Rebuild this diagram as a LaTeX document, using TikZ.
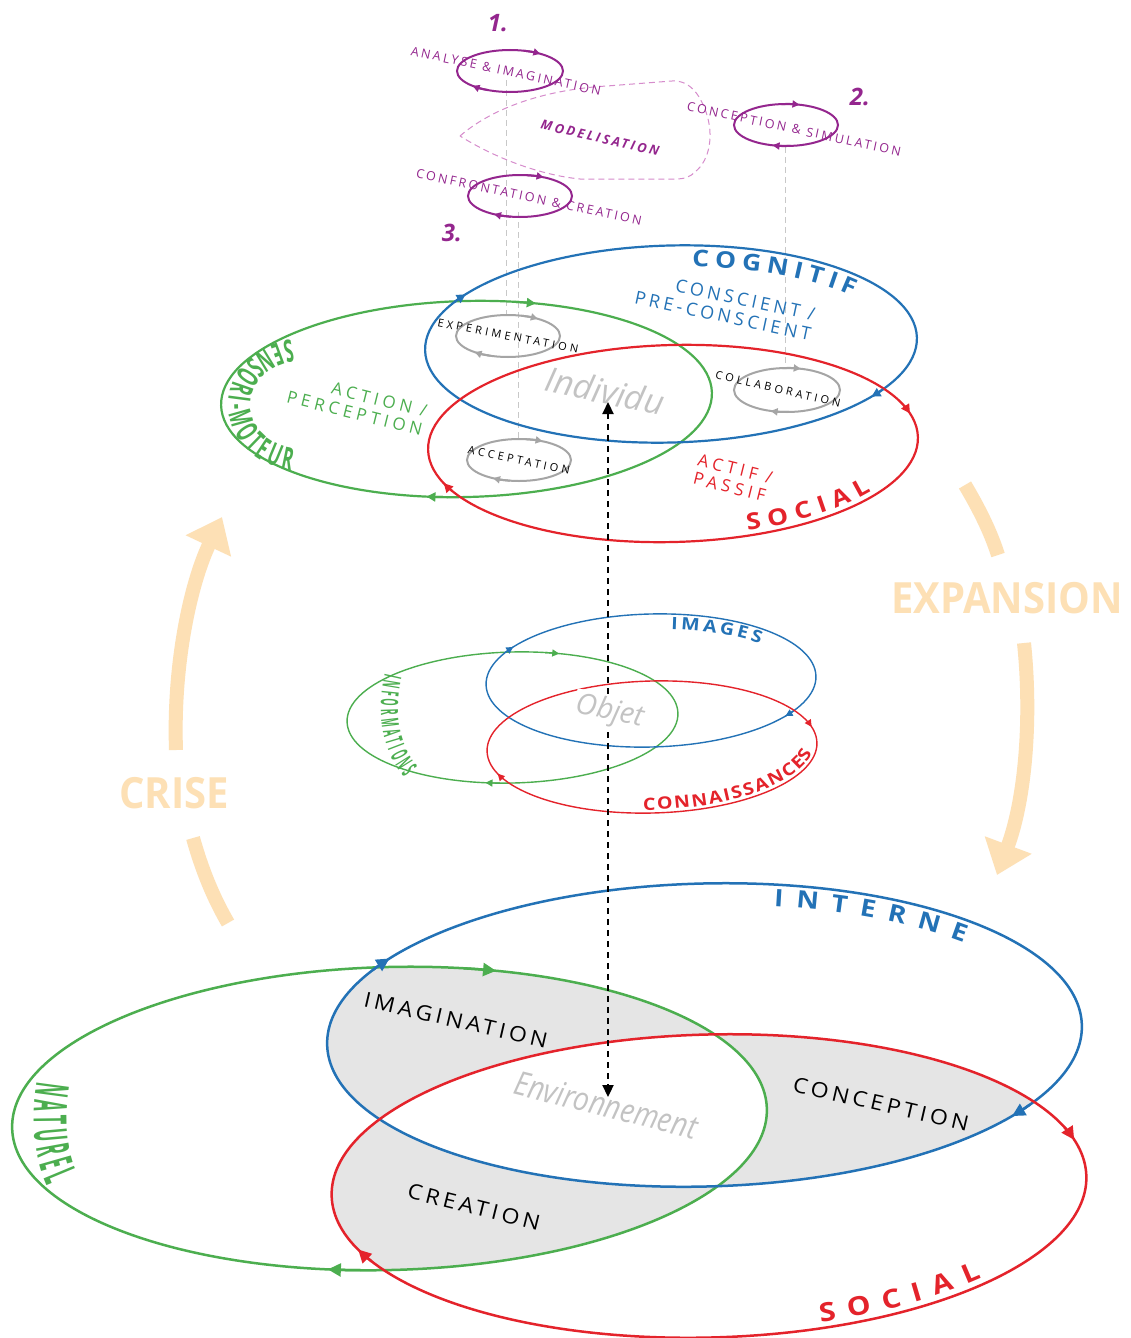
\documentclass[tikz,border=0pt]{standalone}
\usepackage{fontspec}
\setmainfont{Open Sans}
\newfontfamily\fLb[LetterSpace=25]{Open Sans}
\newfontfamily\fLc[LetterSpace=30]{Open Sans}
\newfontfamily\fLd[LetterSpace=20]{Open Sans}
\newfontfamily\fWl[FakeStretch=1.1,LetterSpace=18]{Open Sans}
\newfontfamily\fW[FakeStretch=1.15]{Open Sans}
\newfontfamily\fNa[FakeStretch=0.36]{Open Sans}
\newfontfamily\fNb[FakeStretch=0.53]{Open Sans}
\newfontfamily\fNc[FakeStretch=0.38]{Open Sans}
\newfontfamily\fCo[FakeStretch=0.93]{Open Sans}
\newfontfamily\fEn[FakeStretch=0.85]{Open Sans}
\usetikzlibrary{arrows.meta,decorations.text}
\definecolor{cBlue}{RGB}{35,114,182}
\definecolor{cGreen}{RGB}{76,174,79}
\definecolor{cRed}{RGB}{228,35,43}
\definecolor{cPurple}{RGB}{148,38,142}
\definecolor{cPink}{RGB}{214,140,204}
\definecolor{cOrange}{RGB}{253,224,181}
\definecolor{cLoop}{RGB}{165,165,165}
\definecolor{cGhost}{RGB}{195,195,195}
\definecolor{cFill}{RGB}{229,229,229}
\definecolor{cGuide}{RGB}{200,200,200}

\newcommand\ellarr[8]{%
 \draw[shift={(#1,#2)},rotate=1.5,#6,line width=#7,-{Triangle[length=#8,width=#8]}]
  ({#5-5}:#3 and #4) arc[start angle={#5-5},end angle=#5,x radius=#3,y radius=#4];}
\newcommand\myloop[7]{%
 \draw[#7,line width=2pt] (#1,#2) ellipse[x radius=#3,y radius=#4];
 \draw[shift={(#1,#2)},#7,line width=2pt,-{Triangle[length=7pt,width=7pt]}]
  ({#5-20}:#3 and #4) arc[start angle={#5-20},end angle=#5,x radius=#3,y radius=#4];
 \draw[shift={(#1,#2)},#7,line width=2pt,-{Triangle[length=7pt,width=7pt]}]
  ({#6-20}:#3 and #4) arc[start angle={#6-20},end angle=#6,x radius=#3,y radius=#4];}

\tikzset{
 x=1pt,y=-1pt,
 lbl/.style={inner sep=0pt,align=center},
 BB/.style={shift={(704.5,1035)},rotate=1.5},
 BG/.style={shift={(389.5,1118.5)},rotate=1.5},
 BR/.style={shift={(709,1186)},rotate=1.5},
 TB/.style={shift={(671,344)},rotate=1.5},
 TG/.style={shift={(466.5,399)},rotate=1.5},
 TR/.style={shift={(673,443.5)},rotate=1.5},
 MB/.style={shift={(651,680.5)},rotate=1.5},
 MG/.style={shift={(512.5,717.5)},rotate=1.5},
 MR/.style={shift={(652,747)},rotate=1.5},
 orangearc/.style={cOrange,line width=14pt},
 guide/.style={cGuide,line width=1pt,dash pattern=on 6pt off 4pt},
}

\begin{document}
\begin{tikzpicture}
\useasboundingbox (0,0) rectangle (1131,1338);
\fill[white] (0,0) rectangle (1131,1338);

% ---------- orange cycle arrows ----------
\draw[orangearc,-{Triangle[length=32pt,width=48pt]}] (176,750) .. controls (173,665) and (190,585) .. (222,517);
\draw[orangearc] (193,838) .. controls (202,870) and (213,897) .. (228,923);
\draw[orangearc] (965,485) .. controls (978,507) and (990,530) .. (998,555);
\draw[orangearc,-{Triangle[length=32pt,width=48pt]}] (1024,643) .. controls (1032,720) and (1025,800) .. (997,875);
\node[lbl,text=cOrange,font=\fCo\bfseries\fontsize{43}{43}\selectfont] (crise) at (174,793) {CRISE};
\node[lbl,text=cOrange,font=\fCo\bfseries\fontsize{43}{43}\selectfont] (expansion) at (1007,598) {EXPANSION};

% ---------- guide lines ----------
\draw[guide] (506,80) -- (506,318);
\draw[guide] (518,212) -- (518,441);
\draw[guide] (785,147) -- (785,369);

% ---------- modelisation ----------
\draw[cPink,line width=1pt,dash pattern=on 6pt off 4pt]
 (460,136) .. controls (490,110) and (540,90) .. (607,86) -- (672,81)
 .. controls (690,80) and (700,95) .. (706,112)
 .. controls (714,135) and (710,160) .. (695,172)
 .. controls (690,177) and (685,179) .. (675,179) -- (580,179)
 .. controls (540,175) and (495,158) .. (460,136) -- cycle;
\node[lbl,rotate=-13,text=cPurple,font=\fLd\bfseries\itshape\fontsize{13}{13}\selectfont] (model) at (600,138) {MODELISATION};

\myloop{510}{71}{53}{21}{-55}{135}{cPurple}
\myloop{786}{125}{52}{21}{-75}{105}{cPurple}
\myloop{520}{196}{52}{21}{-63}{120}{cPurple}
\node[lbl,rotate=-12,text=cPurple,font=\fLd\fontsize{12.5}{12.5}\selectfont] (s1) at (506,71) {ANALYSE \& IMAGINATION};
\node[lbl,rotate=-12,text=cPurple,font=\fLd\fontsize{12.5}{12.5}\selectfont] (s2) at (794,129) {CONCEPTION \& SIMULATION};
\node[lbl,rotate=-12,text=cPurple,font=\fLd\fontsize{12.5}{12.5}\selectfont] (s3) at (529,197) {CONFRONTATION \& CREATION};
\node[lbl,text=cPurple,font=\bfseries\itshape\fontsize{24}{24}\selectfont] (n1) at (498,23) {1.};
\node[lbl,text=cPurple,font=\bfseries\itshape\fontsize{24}{24}\selectfont] (n2) at (860,97) {2.};
\node[lbl,text=cPurple,font=\bfseries\itshape\fontsize{24}{24}\selectfont] (n3) at (452,233) {3.};

% ---------- top ellipses ----------
\draw[TG,cGreen,line width=2.2pt] (0,0) ellipse[x radius=245.5,y radius=98];
\draw[TB,cBlue,line width=2.2pt] (0,0) ellipse[x radius=246,y radius=98.5];
\draw[TR,cRed,line width=2.2pt] (0,0) ellipse[x radius=245,y radius=98.5];
\ellarr{671}{344}{246}{98.5}{214}{cBlue}{2.2pt}{9pt}
\ellarr{671}{344}{246}{98.5}{36}{cBlue}{2.2pt}{9pt}
\ellarr{466.5}{399}{245.5}{98}{-73}{cGreen}{2.2pt}{9pt}
\ellarr{466.5}{399}{245.5}{98}{100}{cGreen}{2.2pt}{9pt}
\ellarr{673}{443.5}{245}{98.5}{160}{cRed}{2.2pt}{9pt}
\ellarr{673}{443.5}{245}{98.5}{-14}{cRed}{2.2pt}{9pt}

\path[TB,decorate,decoration={text along path,text align=center,raise=-21pt,
 text={|\fW\bfseries\fontsize{23}{23}\selectfont\spaceskip=6.7pt\color{cBlue}|C O G N I T I F}}]
 (-93:246 and 98.5) arc[start angle=-93,end angle=-25,x radius=246,y radius=98.5];
\path[TR,decorate,decoration={text along path,text align=center,raise=5pt,
 text={|\fW\bfseries\fontsize{23}{23}\selectfont\spaceskip=7.6pt\color{cRed}|S O C I A L}}]
 (82:245 and 98.5) arc[start angle=82,end angle=20,x radius=245,y radius=98.5];
\path[decorate,decoration={text along path,text align=center,
 text={|\fNb\bfseries\fontsize{31}{31}\selectfont\spaceskip=4pt\color{cGreen}|S E N S O R I - M O T E U R}}]
 (303,405) ++(278:75 and 66) arc[start angle=278,end angle=82,x radius=75,y radius=66];

\node[lbl,align=right,rotate=-12,text=cBlue,font=\fLd\fontsize{18}{20}\selectfont] (consc) at (725,306) {CONSCIENT /\\PRE-CONSCIENT};
\node[lbl,align=right,rotate=-14,text=cGreen,font=\fLb\fontsize{17}{19}\selectfont] (action) at (357,404) {ACTION /\\PERCEPTION};
\node[lbl,align=left,rotate=-14,text=cRed,font=\fLb\fontsize{17}{19}\selectfont] (actif) at (733,478) {ACTIF /\\PASSIF};
\node[lbl,rotate=-12,text=cGhost,font=\itshape\fontsize{34}{34}\selectfont] (individu) at (605,391) {Individu};

\myloop{508}{336}{52}{21}{-55}{130}{cLoop}
\myloop{519}{460}{52}{21}{-63}{120}{cLoop}
\myloop{787}{390}{53}{22}{-75}{108}{cLoop}
\node[lbl,rotate=-11,font=\fLc\fontsize{11}{11}\selectfont] (exper) at (508,336) {EXPERIMENTATION};
\node[lbl,rotate=-12,font=\fLc\fontsize{11}{11}\selectfont] (accept) at (519,460) {ACCEPTATION};
\node[lbl,rotate=-13,font=\fLc\fontsize{11}{11}\selectfont] (collab) at (778,389) {COLLABORATION};

% ---------- middle ellipses ----------
\draw[MG,cGreen,line width=1.4pt] (0,0) ellipse[x radius=165.5,y radius=65.5];
\draw[MB,cBlue,line width=1.4pt] (0,0) ellipse[x radius=165,y radius=66.5];
\draw[MR,cRed,line width=1.4pt] (0,0) ellipse[x radius=165,y radius=66];
\ellarr{651}{680.5}{165}{66.5}{214}{cBlue}{1.4pt}{7pt}
\ellarr{651}{680.5}{165}{66.5}{36}{cBlue}{1.4pt}{7pt}
\ellarr{512.5}{717.5}{165.5}{65.5}{-73}{cGreen}{1.4pt}{7pt}
\ellarr{512.5}{717.5}{165.5}{65.5}{100}{cGreen}{1.4pt}{7pt}
\ellarr{652}{747}{165}{66}{160}{cRed}{1.4pt}{7pt}
\ellarr{652}{747}{165}{66}{-14}{cRed}{1.4pt}{7pt}
\path[MB,decorate,decoration={text along path,text align=center,raise=-15pt,
 text={|\fW\bfseries\fontsize{17}{17}\selectfont\spaceskip=4.1pt\color{cBlue}|I M A G E S}}]
 (-95:165 and 66.5) arc[start angle=-95,end angle=-27,x radius=165,y radius=66.5];
\path[decorate,decoration={text along path,text align=center,
 text={|\fNc\bfseries\fontsize{24}{24}\selectfont\spaceskip=3.5pt\color{cGreen}|I N F O R M A T I O N S}}]
 (388,662) .. controls (376,700) and (376,752) .. (412,786);
\path[MR,decorate,decoration={text along path,text align=center,raise=3pt,
 text={|\fW\bfseries\fontsize{17}{17}\selectfont\spaceskip=1.95pt\color{cRed}|C O N N A I S S A N C E S}}]
 (100:165 and 66) arc[start angle=100,end angle=-5,x radius=165,y radius=66];

% ---------- bottom ellipses ----------
\begin{scope}
 \clip[BB] (0,0) ellipse[x radius=377.5,y radius=151.5];
 \fill[BG,cFill] (0,0) ellipse[x radius=377.5,y radius=151.5];
 \fill[BR,cFill] (0,0) ellipse[x radius=377.5,y radius=151.5];
\end{scope}
\begin{scope}
 \clip[BG] (0,0) ellipse[x radius=377.5,y radius=151.5];
 \fill[BR,cFill] (0,0) ellipse[x radius=377.5,y radius=151.5];
\end{scope}
\begin{scope}
 \clip[BB] (0,0) ellipse[x radius=377.5,y radius=151.5];
 \clip[BG] (0,0) ellipse[x radius=377.5,y radius=151.5];
 \fill[BR,white] (0,0) ellipse[x radius=377.5,y radius=151.5];
\end{scope}
\draw[BG,cGreen,line width=2.5pt] (0,0) ellipse[x radius=377.5,y radius=151.5];
\draw[BB,cBlue,line width=2.5pt] (0,0) ellipse[x radius=377.5,y radius=151.5];
\draw[BR,cRed,line width=2.5pt] (0,0) ellipse[x radius=377.5,y radius=151.5];
\ellarr{704.5}{1035}{377.5}{151.5}{214}{cBlue}{2.5pt}{13pt}
\ellarr{704.5}{1035}{377.5}{151.5}{36}{cBlue}{2.5pt}{13pt}
\ellarr{389.5}{1118.5}{377.5}{151.5}{-73}{cGreen}{2.5pt}{13pt}
\ellarr{389.5}{1118.5}{377.5}{151.5}{100}{cGreen}{2.5pt}{13pt}
\ellarr{709}{1186}{377.5}{151.5}{159}{cRed}{2.5pt}{13pt}
\ellarr{709}{1186}{377.5}{151.5}{-14}{cRed}{2.5pt}{13pt}

\path[BB,decorate,decoration={text along path,text align=center,raise=-22pt,
 text={|\fW\bfseries\fontsize{24}{24}\selectfont\spaceskip=13.5pt\color{cBlue}|I N T E R N E}}]
 (-86:377.5 and 151.5) arc[start angle=-86,end angle=-34,x radius=377.5,y radius=151.5];
\path[BR,decorate,decoration={text along path,text align=center,raise=6pt,
 text={|\fW\bfseries\fontsize{26}{26}\selectfont\spaceskip=12.5pt\color{cRed}|S O C I A L}}]
 (84:377.5 and 151.5) arc[start angle=84,end angle=28,x radius=377.5,y radius=151.5];
\path[decorate,decoration={text along path,text align=center,
 text={|\fNa\bfseries\fontsize{46}{46}\selectfont\spaceskip=5pt\color{cGreen}|N A T U R E L}}]
 (38,1074) .. controls (31,1108) and (31,1158) .. (50,1192);

\node[lbl,rotate=-13,font=\fWl\fontsize{21}{21}\selectfont] (imag) at (456,1020) {IMAGINATION};
\node[lbl,rotate=-13,font=\fWl\fontsize{21}{21}\selectfont] (conc) at (881,1104) {CONCEPTION};
\node[lbl,rotate=-14,font=\fWl\fontsize{21}{21}\selectfont] (crea) at (474,1207) {CREATION};
\node[lbl,rotate=-14,text=cGhost,font=\fEn\itshape\fontsize{33}{33}\selectfont] (envir) at (606,1105) {Environnement};

% ---------- vertical link ----------
\coordinate (up) at (608,402);
\coordinate (dn) at (608,1097);
\draw[black,line width=2.2pt,dash pattern=on 6pt off 5pt,{Triangle[length=12pt,width=11pt]}-{Triangle[length=12pt,width=11pt]}] (up) -- (dn);
\node[lbl,inner sep=2pt,fill=white,rotate=-12,text=cGhost,font=\itshape\fontsize{29}{29}\selectfont] (objet) at (610,712) {Objet};
\end{tikzpicture}
\end{document}
